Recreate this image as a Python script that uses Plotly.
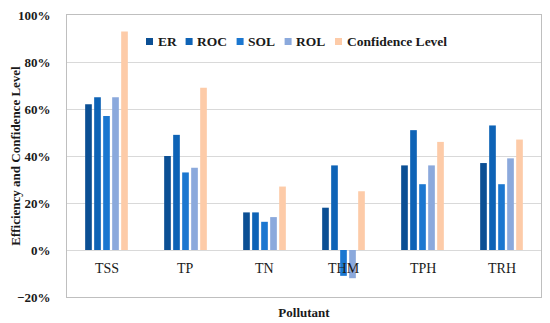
import plotly.graph_objects as go

categories = ["TSS", "TP", "TN", "THM", "TPH", "TRH"]
er = [62, 40, 16, 18, 36, 37]
roc = [65, 49, 16, 36, 51, 53]
sol = [57, 33, 12, -11, 28, 28]
rol = [65, 35, 14, -12, 36, 39]
confidence = [93, 69, 27, 25, 46, 47]

series_names = ["ER", "ROC", "SOL", "ROL", "Confidence Level"]
series_values = [er, roc, sol, rol, confidence]
series_colors = ["#0B4F94", "#0E63B6", "#1B77D0", "#8BA9DC", "#FDCBA8"]

FONT = "Liberation Serif"
TEXT = "#1a1a1a"

# page body has an 8px default margin; the figure is offset by it
W, H = 542, 315
ML, MR, MT, MB = 59, 9, 7, 26
PW = W - ML - MR
PH = H - MT - MB

fig = go.Figure()
for name, vals, color in zip(series_names, series_values, series_colors):
    fig.add_trace(go.Bar(x=categories, y=vals, name=name, marker_color=color,
                         marker_line_width=0, showlegend=False))

for c in categories:
    fig.add_annotation(x=c, y=-8, xref="x", yref="y", text=c, showarrow=False,
                       font=dict(family=FONT, size=14, color=TEXT),
                       yanchor="middle")

# legend row (squares + labels), positioned in plot-area pixels
legend_px = [79, 118.6, 169.6, 217.6, 268]   # left of each square, px from plot left
legend_y = 1 - 26.5 / PH
for name, color, px in zip(series_names, series_colors, legend_px):
    xa = px / PW
    fig.add_shape(type="rect", xref="paper", yref="paper", xsizemode="pixel",
                  ysizemode="pixel", xanchor=xa, yanchor=legend_y,
                  x0=0, x1=7, y0=-3.5, y1=3.5, fillcolor=color, line_width=0)
    fig.add_annotation(x=(px + 9.5) / PW, y=legend_y, xref="paper", yref="paper",
                       text="<b>" + name + "</b>", showarrow=False,
                       xanchor="left", yanchor="middle",
                       font=dict(family=FONT, size=13.5, color=TEXT))

fig.update_layout(
    width=W, height=H,
    margin=dict(l=ML, r=MR, t=MT, b=MB, autoexpand=False),
    paper_bgcolor="white", plot_bgcolor="white",
    barmode="group", bargap=0.43, bargroupgap=0.26,
    font=dict(family=FONT, size=13, color=TEXT),
    showlegend=False,
    xaxis=dict(showticklabels=False, showgrid=False, ticks="", automargin=False,
               showline=True, linecolor="#BFBFBF", linewidth=1, mirror=True,
               title=dict(text="<b>Pollutant</b>", standoff=10,
                          font=dict(family=FONT, size=13))),
    yaxis=dict(range=[-20, 100], dtick=20, ticksuffix="%", automargin=False,
               showgrid=True, gridcolor="#D9D9D9", gridwidth=1,
               zeroline=True, zerolinecolor="#D9D9D9", zerolinewidth=1,
               showline=True, linecolor="#BFBFBF", linewidth=1, mirror=True,
               ticklabelstandoff=13, ticklabeloverflow="allow",
               tickfont=dict(family=FONT, size=13, weight="bold"),
               title=dict(text="<b>Efficiency and Confidence Level</b>", standoff=1,
                          font=dict(family=FONT, size=13))),
)

fig.write_html("out.html")
